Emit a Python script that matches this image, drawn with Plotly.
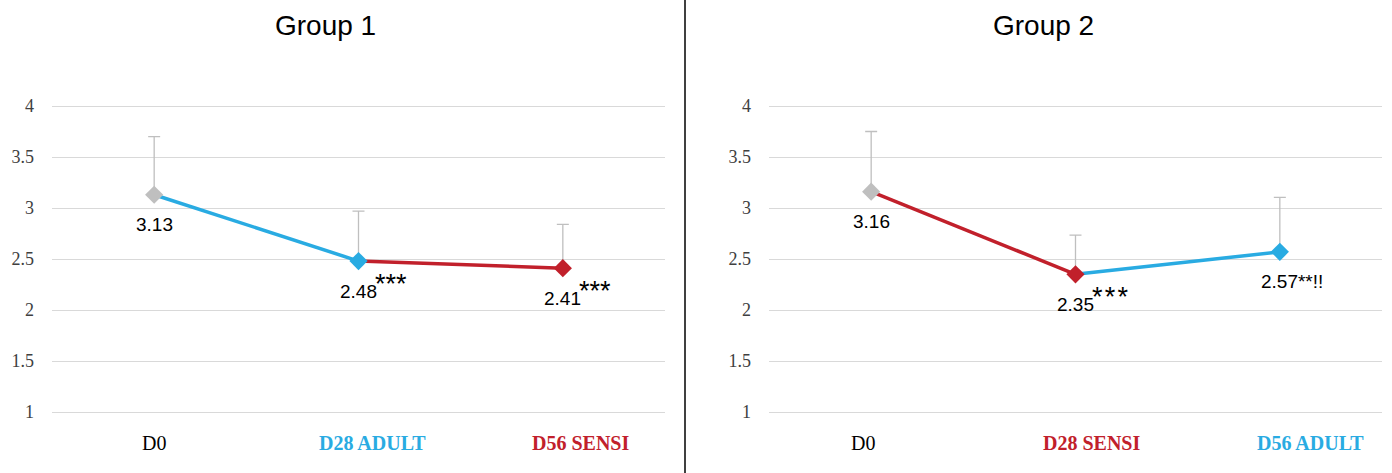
import plotly.graph_objects as go

# ---- data ----
categories_g1 = ["D0", "D28 ADULT", "D56 SENSI"]
means_g1 = [3.13, 2.48, 2.41]
sd_g1 = [0.57, 0.49, 0.43]
stars_g1 = ["", "***", "***"]

categories_g2 = ["D0", "D28 SENSI", "D56 ADULT"]
means_g2 = [3.16, 2.35, 2.57]
sd_g2 = [0.59, 0.385, 0.535]
stars_g2 = ["", "*\u200a*\u200a*", ""]
suffix_g2 = ["", "", "**!!"]

titles = ["Group 1", "Group 2"]

BLUE = "#29ABE2"
RED = "#C1202B"
GRAY = "#BFBFBF"

marker_colors_g1 = [GRAY, BLUE, RED]
seg_colors_g1 = [BLUE, RED]
marker_colors_g2 = [GRAY, RED, BLUE]
seg_colors_g2 = [RED, BLUE]
label_colors_g1 = ["#000000", BLUE, RED]
label_colors_g2 = ["#000000", RED, BLUE]

# horizontal offsets (px) of category labels relative to category centre
label_offsets_g1 = [0, 14, 18]
label_offsets_g2 = [-8, 16, 31]

fig = go.Figure()

W, H = 1392, 473
YMIN, YMAX = 0.99, 4.01
PPU = 102.0  # pixels per unit
px_top = 106 - (YMAX - 4) * PPU
px_bot = 412 + (1 - YMIN) * PPU
ydom = [1 - px_bot / H, 1 - px_top / H]
xdom1 = [52 / W, 665 / W]
xdom2 = [769 / W, 1382 / W]


def add_group(cats, means, sds, mcols, scols, xa, ya):
    for i in range(len(cats) - 1):
        fig.add_trace(go.Scatter(
            x=[i, i + 1], y=[means[i], means[i + 1]], mode="lines",
            line=dict(color=scols[i], width=3.5), xaxis=xa, yaxis=ya,
            showlegend=False, hoverinfo="skip"))
    fig.add_trace(go.Scatter(
        x=list(range(len(cats))), y=means, mode="markers",
        marker=dict(symbol="diamond", size=14, color=mcols),
        error_y=dict(type="data", symmetric=False, array=sds,
                     arrayminus=[0] * len(sds), color=GRAY,
                     thickness=1.3, width=6),
        xaxis=xa, yaxis=ya, showlegend=False))


add_group(categories_g1, means_g1, sd_g1, marker_colors_g1, seg_colors_g1, "x", "y")
add_group(categories_g2, means_g2, sd_g2, marker_colors_g2, seg_colors_g2, "x2", "y2")

axis_common_x = dict(range=[-0.5, 2.5], showgrid=False, zeroline=False,
                     showline=False, ticks="", tickvals=[0, 1, 2], automargin=False,
                     showticklabels=False)
axis_common_y = dict(range=[YMIN, YMAX], tickvals=[1, 1.5, 2, 2.5, 3, 3.5, 4],
                     ticktext=["1", "1.5", "2", "2.5", "3", "3.5", "4"],
                     showgrid=True, gridcolor="#D9D9D9", automargin=False,
                     gridwidth=1, zeroline=False, showline=False, ticks="",
                     tickfont=dict(family="Liberation Serif", size=18, color="#404040"),
                     ticklabelstandoff=17, domain=ydom)

fig.update_layout(
    template="none",
    xaxis=dict(domain=xdom1, anchor="y", **axis_common_x),
    xaxis2=dict(domain=xdom2, anchor="y2", **axis_common_x),
    yaxis=dict(anchor="x", **axis_common_y),
    yaxis2=dict(anchor="x2", **axis_common_y),
    width=W, height=H,
    margin=dict(l=0, r=0, t=0, b=0, pad=0),
    paper_bgcolor="white", plot_bgcolor="white",
    showlegend=False,
)

LABEL_FONT = dict(family="Liberation Sans", size=19, color="#000000")
STAR_FONT = dict(family="Liberation Sans", size=27, color="#000000")

anns = []
for xr, yr, means, stars in (("x", "y", means_g1, stars_g1), ("x2", "y2", means_g2, stars_g2)):
    for i, m in enumerate(means):
        txt = f"{m:.2f}"
        xshift = 0
        if xr == "x2" and suffix_g2[i]:
            txt += suffix_g2[i]
            xshift = 12
        anns.append(dict(x=i, y=m, xref=xr, yref=yr, text=txt, showarrow=False,
                         font=LABEL_FONT, yshift=-30, xshift=xshift,
                         xanchor="center", yanchor="middle"))
        if stars[i]:
            anns.append(dict(x=i, y=m, xref=xr, yref=yr, text=stars[i], showarrow=False,
                             font=STAR_FONT, yshift=-23, xshift=14,
                             xanchor="left", yanchor="middle"))

# category labels (coloured, bold Times-like)
for xr, cats, cols, offs in (("x", categories_g1, label_colors_g1, label_offsets_g1),
                             ("x2", categories_g2, label_colors_g2, label_offsets_g2)):
    for i, (c, col, off) in enumerate(zip(cats, cols, offs)):
        txt = c if c == "D0" else f"<b>{c}</b>"
        anns.append(dict(x=i, y=1 - 443 / H, xref=xr, yref="paper", text=txt,
                         showarrow=False, xshift=off,
                         font=dict(family="Liberation Serif", size=20, color=col),
                         xanchor="center", yanchor="middle"))

for t, cx in zip(titles, [325, 1043]):
    anns.append(dict(x=cx / W, y=1 - 25 / H, xref="paper", yref="paper", text=t,
                     showarrow=False, font=dict(family="Liberation Sans", size=28, color="#000000"),
                     xanchor="center", yanchor="middle"))
fig.update_layout(annotations=anns)

fig.add_shape(type="line", xref="paper", yref="paper", x0=685 / W, x1=685 / W, y0=0, y1=1,
              line=dict(color="#000000", width=1.5))

fig.write_html("out.html", config={"displayModeBar": False},
               post_script="document.body.style.margin='0';document.body.style.overflow='hidden';")
